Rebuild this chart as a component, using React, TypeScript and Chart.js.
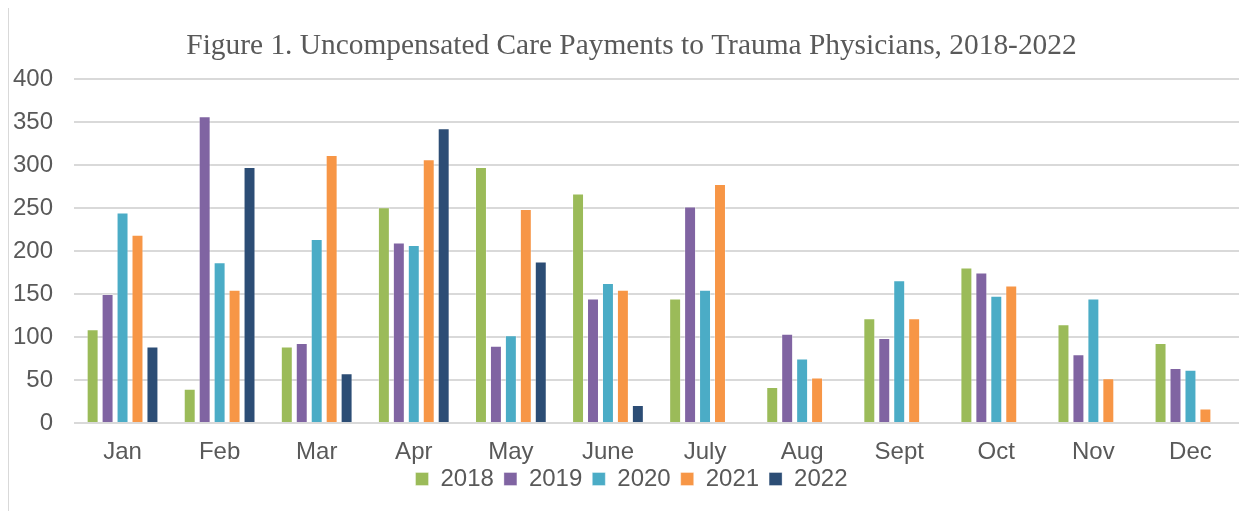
import React, { useEffect, useRef } from "react";
import { Chart, registerables } from "chart.js";

Chart.register(...registerables);

const months = ["Jan", "Feb", "Mar", "Apr", "May", "June", "July", "Aug", "Sept", "Oct", "Nov", "Dec"];
const years = ["2018", "2019", "2020", "2021", "2022"];
const v2018 = [109, 40, 89, 251, 298, 267, 145, 42, 122, 181, 115, 93];
const v2019 = [150, 357, 93, 210, 90, 145, 252, 104, 99, 175, 80, 64];
const v2020 = [245, 187, 214, 207, 102, 163, 155, 75, 166, 148, 145, 62];
const v2021 = [219, 155, 312, 307, 249, 155, 278, 53, 122, 160, 52, 17];
const v2022 = [89, 298, 58, 343, 188, 21, null, null, null, null, null, null];
const colors = ["#9BBB59", "#8064A2", "#4BACC6", "#F79646", "#2C4D75"];
const titleText = "Figure 1. Uncompensated Care Payments to Trauma Physicians, 2018-2022";

const sans = "'Liberation Sans', Arial, sans-serif";

const unclipLabels = {
  id: "unclipLabels",
  beforeDraw(chart: any) {
    const x = chart.scales.x;
    if (x) x.bottom = x.top + 60;
    const y = chart.scales.y;
    if (y) y.left = 0;
  },
};

export default function App() {
  const ref = useRef<HTMLCanvasElement>(null);
  useEffect(() => {
    if (!ref.current) return;
    const series = [v2018, v2019, v2020, v2021, v2022];
    const chart = new Chart(ref.current, {
      type: "bar",
      data: {
        labels: months,
        datasets: years.map((y, i) => ({
          label: y,
          data: series[i],
          backgroundColor: colors[i],
          borderColor: "rgba(255,255,255,0.35)",
          borderWidth: 1,
          categoryPercentage: 0.77,
          barPercentage: 0.8,
        })),
      },
      options: {
        responsive: false,
        animation: false,
        layout: { padding: { top: 0, left: 16, right: 15, bottom: 10 } },
        plugins: {
          title: {
            display: true,
            text: titleText,
            color: "#595959",
            font: { family: "'Liberation Serif', 'Times New Roman', serif", size: 29.4, weight: "normal" },
            padding: { top: 21, bottom: 15 },
          },
          legend: {
            position: "bottom",
            labels: {
              color: "#595959",
              font: { family: sans, size: 24 },
              boxWidth: 13,
              boxHeight: 13,
              padding: 10,
            },
          },
          tooltip: { enabled: false },
        },
        scales: {
          x: {
            grid: { display: false, drawTicks: false },
            border: { display: false },
            ticks: {
              color: "#595959",
              font: { family: sans, size: 24 },
              padding: 15,
            },
            afterFit: (s: any) => { s.height = 34; },
          },
          y: {
            min: 0,
            max: 400,
            grid: { color: "#d9d9d9", lineWidth: 2, drawTicks: false },
            border: { display: false },
            ticks: {
              stepSize: 50,
              color: "#595959",
              font: { family: sans, size: 24 },
              padding: 21,
            },
            afterFit: (s: any) => { s.width = 50; },
          },
        },
      },
      plugins: [unclipLabels],
    } as any);
    return () => chart.destroy();
  }, []);
  return (
    <div style={{ position: "relative", width: 1246, height: 503 }}>
      <div
        style={{
          position: "absolute",
          left: 0,
          top: -1,
          width: 1246,
          height: 504,
          boxSizing: "border-box",
          borderLeft: "1px solid #d9d9d9",
          borderTop: "1px solid #d9d9d9",
        }}
      />
      <canvas ref={ref} width={1246} height={503} style={{ position: "absolute", left: 0, top: 0, display: "block" }} />
    </div>
  );
}
